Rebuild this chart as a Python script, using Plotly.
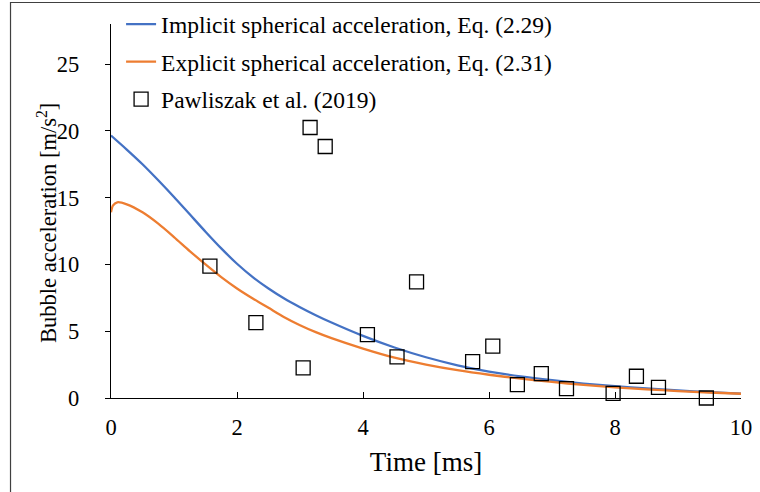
import plotly.graph_objects as go

# Model curves: time [ms] and bubble acceleration [m/s^2]
t_implicit = [0, 0.25, 0.5, 0.75, 1.0, 1.25, 1.5, 1.75, 2.0, 2.25, 2.5, 2.75, 3.0,
              3.25, 3.5, 4.0, 4.5, 5.0, 5.5, 6.0, 6.5, 7.0, 7.5, 8.0, 8.5, 9.0,
              9.5, 10.0]
a_implicit = [19.65, 18.6, 17.5, 16.3, 15.05, 13.75, 12.45, 11.2, 10.05, 9.05,
              8.2, 7.45, 6.8, 6.2, 5.65, 4.65, 3.78, 3.05, 2.45, 1.98, 1.62, 1.33,
              1.08, 0.88, 0.71, 0.57, 0.44, 0.33]

t_explicit = [0, 0.03, 0.1, 0.25, 0.5, 0.75, 1.0, 1.25, 1.5, 1.75, 2.0, 2.25, 2.5,
              2.75, 3.0, 3.25, 3.5, 4.0, 4.5, 5.0, 5.5, 6.0, 6.5, 7.0, 7.5, 8.0,
              8.5, 9.0, 9.5, 10.0]
a_explicit = [13.9, 14.4, 14.65, 14.5, 13.9, 13.05, 12.05, 11.0, 10.0, 9.05, 8.2,
              7.45, 6.75, 6.05, 5.45, 4.93, 4.48, 3.7, 3.02, 2.5, 2.08, 1.74, 1.45,
              1.2, 0.98, 0.8, 0.65, 0.52, 0.41, 0.32]

# Experimental data (Pawliszak et al., 2019)
t_exp = [1.57, 2.30, 3.05, 3.16, 3.40, 4.07, 4.54, 4.85, 5.74, 6.06, 6.45, 6.83,
         7.23, 7.97, 8.34, 8.69, 9.45]
a_exp = [9.88, 5.65, 2.25, 20.25, 18.83, 4.75, 3.08, 8.70, 2.73, 3.88, 1.0, 1.83,
         0.70, 0.35, 1.63, 0.80, 0.0]

FONT = "Liberation Serif, Times New Roman, serif"

fig = go.Figure()
fig.add_trace(go.Scatter(
    x=t_implicit, y=a_implicit, mode="lines", line_shape="spline",
    line_smoothing=0.8,
    name="Implicit spherical acceleration, Eq. (2.29)", legendgroup="a",
    line=dict(color="#4472C4", width=2.3)))
fig.add_trace(go.Scatter(
    x=t_explicit, y=a_explicit, mode="lines", line_shape="spline",
    line_smoothing=0.8,
    name="Explicit spherical acceleration, Eq. (2.31)", legendgroup="b",
    line=dict(color="#ED7D31", width=2.3)))
fig.add_trace(go.Scatter(
    x=t_exp, y=a_exp, mode="markers", name="Pawliszak et al. (2019)", legendgroup="c",
    marker=dict(symbol="square-open", size=14, color="black", line=dict(width=1.3)),
    cliponaxis=False))

fig.update_layout(
    width=760, height=492,
    margin=dict(l=111, r=19, t=24, b=94, autoexpand=False),
    paper_bgcolor="white", plot_bgcolor="white",
    font=dict(family=FONT, size=22.5, color="black"),
    showlegend=True,
    legend=dict(x=0.016, y=1.058, xanchor="left", yanchor="top",
                bgcolor="rgba(0,0,0,0)", font=dict(family=FONT, size=23.5),
                tracegroupgap=4, itemwidth=30),
    xaxis=dict(range=[0, 10], dtick=2, tick0=0, showline=True, linecolor="black",
               linewidth=1.3, ticks="inside", ticklen=6, tickcolor="black",
               showgrid=False, zeroline=False, ticklabelstandoff=9,
               automargin=False,
               title=dict(text="Time [ms]", standoff=12)),
    yaxis=dict(range=[0, 28], dtick=5, tick0=0, showline=True, linecolor="black",
               linewidth=1.3, ticks="outside", ticklen=5, tickcolor="black",
               showgrid=False, zeroline=False, ticklabelstandoff=21,
               automargin=False),
    annotations=[dict(text="Bubble acceleration [m/s<sup>2</sup>]", textangle=-90,
                      xref="paper", yref="paper", x=-0.1016, y=0.468,
                      xanchor="center", yanchor="middle", showarrow=False,
                      font=dict(family=FONT, size=22.5, color="black"))],
    shapes=[dict(type="rect", xref="paper", yref="paper",
                 x0=-0.1595, x1=1.2, y0=-0.4, y1=1.0575,
                 line=dict(color="#404040", width=1.2), layer="below")],
)

fig.write_html("out.html")
